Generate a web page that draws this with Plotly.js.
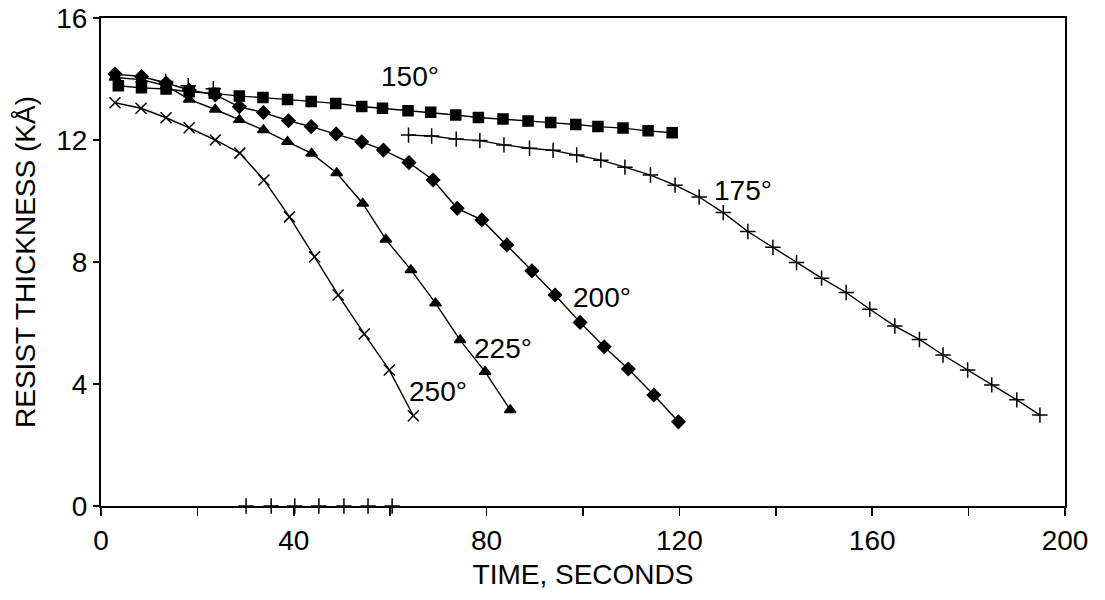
<!DOCTYPE html>
<html>
<head>
<meta charset="utf-8">
<script src="https://cdn.plot.ly/plotly-3.0.1.min.js"></script>
<style>html,body{margin:0;padding:0;background:#fff;}#chart{width:1105px;height:600px;}</style>
</head>
<body>
<div id="chart"></div>
<script>
// 150 deg (squares)
const t150 = [3.6,8.4,13.5,18.3,23.5,28.7,33.6,38.7,43.6,48.7,54.1,58.4,63.7,68.4,73.6,78.3,83.4,88.6,93.3,98.5,103.1,108.3,113.5,118.5];
const y150 = [13.78,13.71,13.67,13.58,13.53,13.44,13.39,13.33,13.26,13.2,13.1,13.04,12.96,12.91,12.82,12.74,12.69,12.62,12.57,12.51,12.44,12.39,12.3,12.24];
// 175 deg (plus) - early points, zero points, main curve
const t175a = [13.4,18.1,23.3];
const y175a = [13.92,13.78,13.68];
const t175z = [30.1,35.3,40.2,45.2,50.4,55.4,60.4];
const y175z = [0,0,0,0,0,0,0];
const t175 = [63.8,68.6,73.7,78.6,83.6,88.9,93.8,98.7,103.7,108.7,114.0,119.1,124.1,129.1,134.2,139.4,144.3,149.5,154.6,159.5,164.7,169.8,174.7,179.8,184.8,190.0,194.8];
const y175 = [12.16,12.13,12.03,11.98,11.84,11.73,11.66,11.51,11.34,11.11,10.85,10.52,10.13,9.62,9.0,8.48,7.98,7.47,7.0,6.45,5.9,5.46,4.95,4.46,3.97,3.48,2.98];
// 200 deg (diamonds)
const t200 = [2.9,8.4,13.5,18.3,23.7,28.7,33.7,38.9,43.6,48.8,54.1,58.6,63.9,68.9,73.9,79.0,84.2,89.4,94.2,99.4,104.4,109.4,114.7,119.8];
const y200 = [14.16,14.08,13.87,13.64,13.48,13.09,12.9,12.63,12.44,12.2,11.94,11.67,11.26,10.69,9.76,9.38,8.56,7.71,6.92,6.02,5.22,4.49,3.64,2.76];
// 225 deg (triangles)
const t225 = [2.9,8.4,13.5,18.3,23.7,28.7,33.7,38.7,43.7,48.9,54.3,59.1,64.3,69.4,74.5,79.7,84.9];
const y225 = [14.05,13.98,13.78,13.33,13.0,12.66,12.33,11.94,11.56,10.92,9.92,8.74,7.74,6.65,5.44,4.4,3.15];
// 250 deg (x)
const t250 = [2.9,8.3,13.5,18.3,23.7,28.8,33.8,39.1,44.3,49.2,54.6,59.8,64.8];
const y250 = [13.22,13.04,12.73,12.4,12.0,11.57,10.69,9.48,8.17,6.92,5.64,4.46,2.96];

const xTickVals = [0,20,40,60,80,100,120,140,160,180,200];
const xTickText = ['0','','40','','80','','120','','160','','200'];
const yTickVals = [0,4,8,12,16];
const yTickText = ['0','4','8','12','16'];

const labelText = ['150°','175°','200°','225°','250°'];
const labelX = [64.1,133.2,104.0,83.4,69.9];
const labelY = [14.07,10.33,6.82,5.18,3.77];

const FONT = 'Liberation Sans, Arial, Helvetica, sans-serif';
const lineStyle = {color:'#000', width:1.4};

function tr(x, y, symbol, size, extra) {
  return Object.assign({
    x: x, y: y, type: 'scatter', mode: 'lines+markers',
    line: lineStyle, cliponaxis: false,
    marker: {symbol: symbol, size: size, color: '#000', line: {color:'#000', width: 1.5}},
    showlegend: false, hoverinfo: 'skip'
  }, extra || {});
}

const data = [
  tr(t250, y250, 'x-thin', 11),
  tr(t225, y225, 'triangle-up', 10),
  tr(t200, y200, 'diamond', 10),
  tr(t175, y175, 'cross-thin', 11),
  tr(t175a, y175a, 'cross-thin', 11, {mode:'markers'}),
  tr(t175z, y175z, 'cross-thin', 11, {mode:'markers'}),
  tr(t150, y150, 'square', 10)
];

const annotations = labelText.map((t, i) => ({
  x: labelX[i], y: labelY[i], xref: 'x', yref: 'y', text: t, showarrow: false,
  font: {family: FONT, size: 28, color: '#000'}
}));

const layout = {
  width: 1105, height: 600,
  margin: {l: 101, r: 40, t: 18, b: 94},
  paper_bgcolor: '#fff', plot_bgcolor: '#fff',
  font: {family: FONT, size: 28, color: '#000'},
  xaxis: {
    range: [0, 200], showgrid: false, zeroline: false,
    showline: true, mirror: true, linecolor: '#000', linewidth: 2,
    ticks: 'outside', ticklen: 8, tickwidth: 1.5, tickcolor: '#000',
    tickmode: 'array', tickvals: xTickVals, ticktext: xTickText,
    tickfont: {family: FONT, size: 28, color: '#000'},
    title: {text: 'TIME, SECONDS', font: {family: FONT, size: 28, color: '#000'}, standoff: 10}
  },
  yaxis: {
    range: [0, 16], showgrid: false, zeroline: false,
    showline: true, mirror: true, linecolor: '#000', linewidth: 2,
    ticks: 'outside', ticklen: 6, tickwidth: 1.5, tickcolor: '#000',
    tickmode: 'array', tickvals: yTickVals, ticktext: yTickText,
    tickfont: {family: FONT, size: 28, color: '#000'},
    title: {text: 'RESIST THICKNESS (KÅ)', font: {family: FONT, size: 28, color: '#000'}, standoff: 12}
  },
  annotations: annotations
};

Plotly.newPlot('chart', data, layout, {displayModeBar: false, staticPlot: true});
</script>
</body>
</html>
